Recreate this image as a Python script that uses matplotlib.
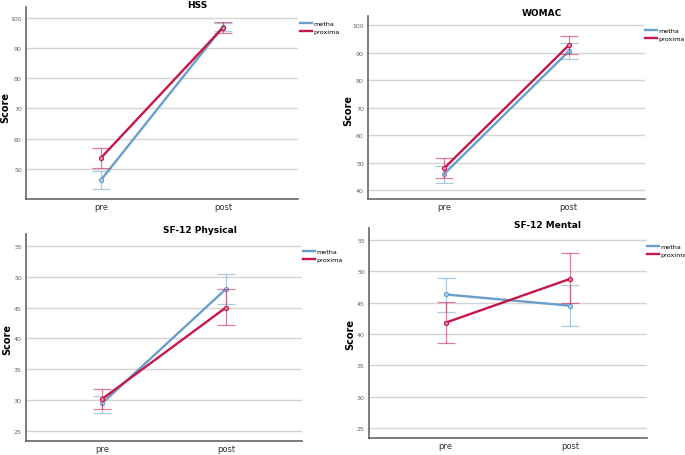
import matplotlib.pyplot as plt
from matplotlib.lines import Line2D

GROUPS = ["metha", "proxima"]
TIMES = ["pre", "post"]
TITLES = ["HSS", "WOMAC", "SF-12 Physical", "SF-12 Mental"]

# mean, lower CI, upper CI for [pre, post]
HSS_METHA = [46.4, 97.0]
HSS_METHA_LO = [43.4, 95.7]
HSS_METHA_HI = [49.3, 98.3]
HSS_PROX = [53.7, 96.7]
HSS_PROX_LO = [50.2, 94.9]
HSS_PROX_HI = [57.1, 98.6]

WOMAC_METHA = [46.0, 90.5]
WOMAC_METHA_LO = [42.7, 87.7]
WOMAC_METHA_HI = [48.7, 93.4]
WOMAC_PROX = [48.1, 92.7]
WOMAC_PROX_LO = [44.6, 89.5]
WOMAC_PROX_HI = [51.9, 96.1]

PHYS_METHA = [29.5, 48.0]
PHYS_METHA_LO = [27.95, 45.6]
PHYS_METHA_HI = [30.75, 50.4]
PHYS_PROX = [30.2, 45.0]
PHYS_PROX_LO = [28.5, 42.1]
PHYS_PROX_HI = [31.8, 48.0]

MENT_METHA = [46.3, 44.5]
MENT_METHA_LO = [43.5, 41.2]
MENT_METHA_HI = [49.0, 47.8]
MENT_PROX = [41.8, 48.8]
MENT_PROX_LO = [38.5, 44.9]
MENT_PROX_HI = [45.1, 52.9]

PANELS = [
    (HSS_METHA, HSS_METHA_LO, HSS_METHA_HI, HSS_PROX, HSS_PROX_LO, HSS_PROX_HI),
    (WOMAC_METHA, WOMAC_METHA_LO, WOMAC_METHA_HI, WOMAC_PROX, WOMAC_PROX_LO, WOMAC_PROX_HI),
    (PHYS_METHA, PHYS_METHA_LO, PHYS_METHA_HI, PHYS_PROX, PHYS_PROX_LO, PHYS_PROX_HI),
    (MENT_METHA, MENT_METHA_LO, MENT_METHA_HI, MENT_PROX, MENT_PROX_LO, MENT_PROX_HI),
]
YTICKS = [range(50, 101, 10), range(40, 101, 10), range(25, 56, 5), range(25, 56, 5)]
YLIMS = [(40.1, 103.5), (36.8, 103.4), (23.4, 56.9), (23.4, 56.9)]

BLUE = "#6a9fcc"
RED = "#c4184a"
COLORS = [BLUE, RED]
FILLS = ["#b5d0ea", "#e58aa3"]

W, H = 685, 456
# axes boxes in pixels: left, top, right, bottom
BOXES = [(26, 8, 298, 200), (368, 17, 645, 200), (26, 235, 302, 442), (369, 229, 647, 439)]
TITLE_POS = [(197, 5), (542, 13), (200, 231), (547, 225)]
SCORE_POS = [(5, 108), (348, 110), (7, 340), (350, 335)]
LEGEND_POS = [(300, 22), (645, 29), (303, 250), (647, 245)]


def px(x, y):
    return x / W, 1 - y / H


fig = plt.figure(figsize=(W / 100, H / 100), dpi=100)
fig.patch.set_facecolor("white")

for k, (box, series) in enumerate(zip(BOXES, PANELS)):
    l, t, r, b = box
    ax = fig.add_axes([l / W, 1 - b / H, (r - l) / W, (b - t) / H])
    x = list(range(len(TIMES)))
    for g in range(2):
        mean, lo, hi = series[3 * g], series[3 * g + 1], series[3 * g + 2]
        err = [[m - a for m, a in zip(mean, lo)], [c - m for m, c in zip(mean, hi)]]
        ax.errorbar(x, mean, yerr=err, fmt="none", ecolor=COLORS[g], alpha=0.55,
                    elinewidth=0.9, capsize=6.5, capthick=0.9, zorder=3 + g)
        ax.plot(x, mean, color=COLORS[g], lw=1.7, marker="o", ms=3.0,
                mfc=FILLS[g], mec=COLORS[g], mew=0.8, zorder=4 + g)
    ax.set_xlim(-0.615, 1.615)
    ax.set_ylim(*YLIMS[k])
    ax.set_xticks(x)
    ax.set_xticklabels(TIMES, fontsize=6, color="#333333")
    ax.set_yticks(list(YTICKS[k]))
    ax.tick_params(axis="y", labelsize=4.5, labelcolor="#666666", length=0, pad=3)
    ax.tick_params(axis="x", length=0, pad=2)
    ax.grid(axis="y", color="#d4d4d4", lw=1.0)
    ax.set_axisbelow(True)
    for s in ("top", "right"):
        ax.spines[s].set_visible(False)
    for s in ("left", "bottom"):
        ax.spines[s].set_color("#666666")
        ax.spines[s].set_linewidth(1.2)

    tx, ty = px(*TITLE_POS[k])
    fig.text(tx, ty, TITLES[k], fontsize=6.5, fontweight="bold", ha="center", va="center")
    sx, sy = px(*SCORE_POS[k])
    fig.text(sx, sy, "Score", fontsize=7, fontweight="bold", rotation=90,
             ha="center", va="center")

    handles = [Line2D([], [], color=c, lw=1.7) for c in COLORS]
    ax.legend(handles, GROUPS, loc="upper left", bbox_to_anchor=px(*LEGEND_POS[k]),
              bbox_transform=fig.transFigure, frameon=False, fontsize=4.6,
              handlelength=1.8, handletextpad=0.25, labelspacing=0.3,
              borderaxespad=0.0, borderpad=0.0)

fig.savefig("out.png", dpi=100)
